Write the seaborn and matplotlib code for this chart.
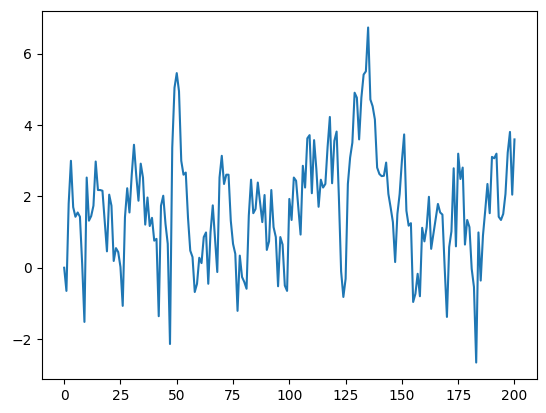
import numpy as np
import matplotlib
matplotlib.use("Agg")
import matplotlib.pyplot as plt
import seaborn as sns

# series values, one per step 0..200
steps = np.arange(201)
values = [
    0.0, -0.65, 1.8, 3.0, 1.7, 1.43, 1.55, 1.43, 0.1, -1.52,
    2.53, 1.32, 1.45, 1.74, 2.98, 2.18, 2.18, 2.16, 1.3, 0.46,
    2.05, 1.74, 0.19, 0.55, 0.44, 0.02, -1.07, 1.42, 2.23, 1.55,
    2.6, 3.45, 2.6, 1.88, 2.92, 2.53, 1.21, 1.97, 1.17, 1.40,
    0.76, 0.81, -1.36, 1.74, 2.02, 1.23, 0.67, -2.14, 3.37, 5.05,
    5.46, 4.95, 3.0, 2.61, 2.67, 1.4, 0.48, 0.30, -0.68, -0.45,
    0.28, 0.13, 0.86, 0.99, -0.45, 1.0, 1.75, 0.8, -0.12, 2.53,
    3.14, 2.35, 2.61, 2.61, 1.32, 0.67, 0.39, -1.21, 0.34, -0.26,
    -0.40, -0.59, 1.46, 2.47, 1.53, 1.65, 2.39, 1.83, 1.28, 2.04,
    0.50, 0.74, 2.18, 1.14, 0.86, -0.52, 0.86, 0.65, -0.5, -0.65,
    1.93, 1.34, 2.53, 2.44, 1.69, 0.93, 2.86, 2.25, 3.63, 3.72,
    2.09, 3.58, 2.77, 1.71, 2.47, 2.25, 2.35, 3.39, 4.23, 2.37,
    3.56, 3.82, 2.0, -0.1, -0.82, -0.31, 2.35, 3.09, 3.51, 4.91,
    4.77, 3.6, 4.77, 5.42, 5.51, 6.74, 4.72, 4.53, 4.16, 2.81,
    2.63, 2.57, 2.58, 2.95, 2.07, 1.69, 1.28, 0.16, 1.51, 2.07,
    3.0, 3.74, 1.6, 1.18, 1.25, -0.96, -0.73, -0.17, -0.80, 1.12,
    0.74, 1.14, 1.99, 0.53, 0.95, 1.37, 1.79, 1.55, 1.49, 0.0,
    -1.38, 0.58, 1.02, 2.79, 0.60, 3.2, 2.49, 2.81, 0.65, 1.34,
    1.14, -0.03, -0.54, -2.66, 0.99, -0.36, 0.90, 1.60, 2.35, 1.53,
    3.11, 3.07, 3.2, 1.43, 1.34, 1.51, 2.07, 3.23, 3.81, 2.05,
    3.6,
]

fig, ax = plt.subplots(figsize=(5.46, 4.13), dpi=100)
fig.subplots_adjust(left=0.0763, right=0.9835, bottom=0.0816, top=0.974)

sns.lineplot(x=steps, y=values, ax=ax, color="#1f77b4", linewidth=1.5)

ax.set_xticks([0, 25, 50, 75, 100, 125, 150, 175, 200])
ax.set_yticks([-2, 0, 2, 4, 6])
ax.set_xlabel("")
ax.set_ylabel("")

plt.savefig("out.png", dpi=100)
